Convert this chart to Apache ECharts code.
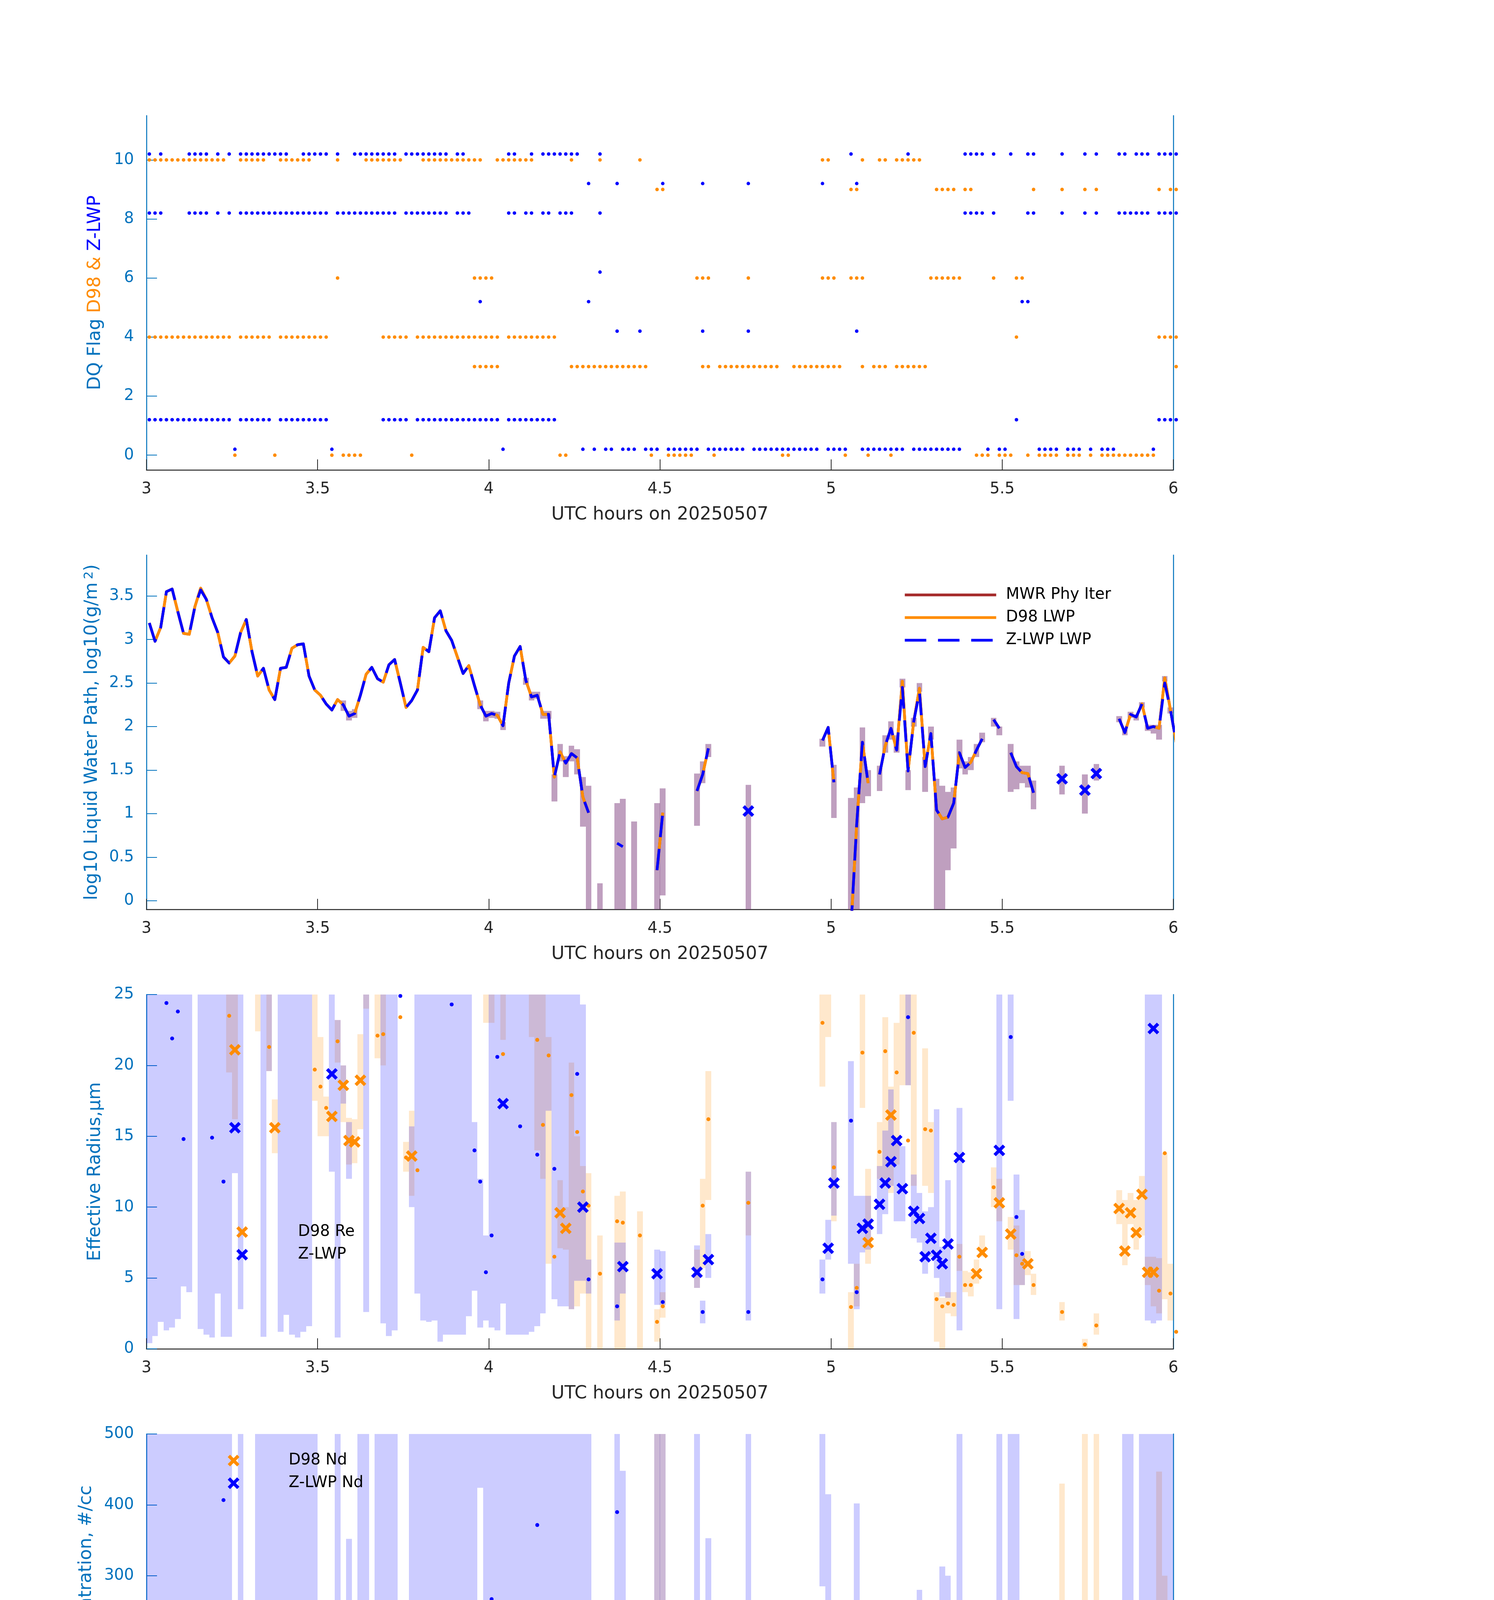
<!DOCTYPE html>
<html><head><meta charset="utf-8">
<script src="https://cdn.jsdelivr.net/npm/echarts@6/dist/echarts.min.js"></script>
<style>html,body{margin:0;padding:0;background:#fff}#c{width:3825px;height:6000px}</style>
</head><body><div id="c"></div>
<script>
const _ = null;
// ---------- Panel 1: DQ flags (minute indices, ranges [a,b] or single minutes) ----------
const d98Flag10 = [[0,13],[16,20],[23,28],33,[38,44],[48,58],[61,67],74,79,86,118,119,125,128,129,[131,135]];
const d98Flag9 = [89,90,123,124,[138,141],143,144,155,160,164,166,177,179,180];
const d98Flag6 = [33,[57,60],[96,98],105,[118,120],[123,125],[137,142],148,152,153];
const d98Flag4 = [[0,14],[16,21],[23,31],[41,45],[47,61],[63,71],152,[177,180]];
const d98Flag3 = [[57,61],[74,87],97,98,[100,110],[113,121],125,[127,129],[131,136],180];
const d98Flag0 = [15,22,32,[34,37],46,72,73,88,[91,95],99,111,112,122,126,130,[145,147],[149,151],154,[156,159],[161,163],165,[167,176]];
const zFlag10 = [0,2,[7,10],12,14,[16,24],[27,31],33,[36,43],[45,52],54,55,63,64,67,[69,75],79,123,133,[143,146],148,151,154,155,160,164,166,170,171,[173,175],[177,180]];
const zFlag9 = [77,82,90,97,105,118,124];
const zFlag8 = [[0,2],[7,10],12,14,[16,31],[33,43],[45,52],[54,56],63,64,66,67,69,70,[72,74],79,[143,146],148,154,155,160,164,166,[170,175],[177,180]];
const zFlag6 = [79];
const zFlag5 = [58,77,153,154];
const zFlag4 = [82,86,97,105,124];
const zFlag1 = [[0,14],[16,21],[23,31],[41,45],[47,61],[63,71],152,[177,180]];
const zFlag0 = [15,32,62,76,78,80,81,[83,85],[87,89],[91,96],[98,104],[106,117],[119,122],[125,132],[134,142],147,149,150,[156,159],[161,163],165,[167,169],176];

// ---------- Panel 2: log10 LWP per minute ----------
const d98Lwp = [3.19,2.98,3.14,3.55,3.58,3.32,3.07,3.06,3.38,3.59,
3.46,3.25,3.08,2.80,2.73,2.81,3.08,3.23,2.86,2.58,
2.67,2.42,2.31,2.67,2.68,2.90,2.94,2.95,2.58,2.42,
2.36,2.26,2.19,2.31,2.25,2.12,2.15,2.36,2.60,2.68,
2.55,2.51,2.71,2.77,2.50,2.22,2.30,2.42,2.91,2.86,
3.25,3.33,3.10,2.99,2.80,2.61,2.70,2.47,2.25,2.12,
2.15,2.13,2.01,2.50,2.81,2.92,2.53,2.34,2.36,2.14,
2.14,1.42,1.71,1.58,1.69,1.64,1.19,1.01,_,_,
_,_,_,_,_,_,_,_,_,0.35,
1.01,_,_,_,_,_,1.26,1.45,1.75,_,
_,_,_,_,_,_,_,_,_,_,
_,_,_,_,_,_,_,_,1.84,1.99,
1.36,_,_,-0.3,0.88,1.82,1.35,_,1.45,1.78,
1.98,1.73,2.52,1.49,2.06,2.44,1.54,1.92,1.04,0.94,
0.96,1.12,1.70,1.53,1.59,1.73,1.86,_,2.08,1.98,
_,1.70,1.54,1.47,1.46,1.24,_,_,_,_,
_,_,_,_,_,_,_,_,_,_,
2.09,1.93,2.14,2.11,2.26,1.98,2.00,1.98,2.56,2.19,
1.82];
const zLwp = [3.19,2.98,3.14,3.55,3.58,3.32,3.07,3.06,3.38,3.57,
3.46,3.25,3.08,2.80,2.73,2.81,3.08,3.23,2.86,2.58,
2.67,2.42,2.31,2.67,2.68,2.90,2.94,2.95,2.58,2.42,
2.36,2.26,2.19,2.31,2.25,2.12,2.15,2.36,2.60,2.68,
2.55,2.51,2.71,2.77,2.50,2.22,2.30,2.42,2.91,2.86,
3.25,3.33,3.10,2.99,2.80,2.61,2.70,2.47,2.25,2.12,
2.15,2.13,2.01,2.50,2.81,2.92,2.53,2.34,2.36,2.14,
2.14,1.42,1.71,1.58,1.69,1.64,1.19,1.01,_,_,
_,_,0.66,0.62,_,_,_,_,_,0.35,
1.01,_,_,_,_,_,1.26,1.45,1.75,_,
_,_,_,_,_,_,_,_,_,_,
_,_,_,_,_,_,_,_,1.84,1.99,
1.36,_,_,-0.3,0.88,1.82,1.35,_,1.45,1.78,
1.98,1.73,2.45,1.49,2.06,2.40,1.54,1.92,1.04,0.94,
0.96,1.12,1.70,1.53,1.59,1.73,1.86,_,2.08,1.98,
_,1.70,1.54,1.47,1.46,1.24,_,_,_,_,
_,_,_,_,_,_,_,_,_,_,
2.09,1.93,2.14,2.11,2.26,1.98,2.00,1.98,2.50,2.19,
1.82];
const mwrLwp = [3.19,2.98,3.14,3.55,3.58,3.32,3.07,3.06,3.38,3.59,
3.46,3.25,3.08,2.80,2.73,2.81,3.08,3.23,2.86,2.58,
2.67,2.42,2.31,2.67,2.68,2.90,2.94,2.95,2.58,2.42,
2.36,2.26,2.19,2.31,2.25,2.12,2.15,2.36,2.60,2.68,
2.55,2.51,2.71,2.77,2.50,2.22,2.30,2.42,2.91,2.86,
3.25,3.33,3.10,2.99,2.80,2.61,2.70,2.47,2.25,2.12,
2.15,2.13,2.01,2.50,2.81,2.92,2.53,2.34,2.36,2.14,
2.14,1.42,1.71,1.58,1.69,1.64,1.19,1.01,_,_,
_,_,_,_,_,_,_,_,_,0.35,
1.01,_,_,_,_,_,1.26,1.45,1.75,_,
_,_,_,_,_,_,_,_,_,_,
_,_,_,_,_,_,_,_,1.84,1.99,
1.36,_,_,-0.3,0.88,1.82,1.35,_,1.45,1.78,
1.98,1.73,2.52,1.49,2.06,2.44,1.54,1.92,1.04,0.94,
0.96,1.12,1.70,1.53,1.59,1.73,1.86,_,2.08,1.98,
_,1.70,1.54,1.47,1.46,1.24,_,_,_,_,
_,_,_,_,_,_,_,_,_,_,
2.09,1.93,2.14,2.11,2.26,1.98,2.00,1.98,2.56,2.19,
1.82];
const zLwpIso = [[105,1.03],[160,1.40],[164,1.27],[166,1.46]];
const lwpBand = [[34,2.18,2.30],[35,2.07,2.18],[36,2.10,2.20],[58,2.20,2.30],[59,2.06,2.18],[60,2.10,2.18],[61,2.09,2.17],[62,1.96,2.05],[66,2.48,2.56],[67,2.30,2.40],[68,2.32,2.40],[69,2.09,2.18],[70,2.09,2.18],[71,1.14,1.45],[72,1.60,1.80],[73,1.42,1.66],[74,1.60,1.78],[75,1.45,1.74],[76,0.85,1.42],[77,-1,1.32],[79,-1,0.2],[82,-1,1.12],[83,-1,1.17],[85,-1,0.91],[89,-1,1.12],[90,0.06,1.29],[96,0.86,1.46],[97,1.35,1.60],[98,1.65,1.80],[105,-1,1.33],[118,1.77,1.86],[120,0.95,1.56],[123,-1,1.18],[124,-1,1.30],[125,1.12,1.99],[126,1.20,1.50],[128,1.26,1.55],[129,1.70,1.90],[130,1.85,2.06],[131,1.70,1.90],[132,2.45,2.55],[133,1.27,1.50],[134,2.00,2.10],[135,2.40,2.50],[136,1.25,1.65],[137,1.85,2.00],[138,-1,1.40],[139,-1,1.32],[140,0.35,1.25],[141,0.60,1.30],[142,1.52,1.85],[143,1.45,1.60],[144,1.50,1.65],[145,1.65,1.80],[146,1.82,1.93],[148,2.00,2.10],[149,1.90,2.00],[151,1.25,1.80],[152,1.28,1.60],[153,1.35,1.55],[154,1.30,1.55],[155,1.05,1.38],[160,1.22,1.55],[164,1.00,1.45],[166,1.38,1.57],[170,2.05,2.12],[171,1.90,1.96],[172,2.10,2.17],[173,2.07,2.14],[174,2.22,2.28],[175,1.95,2.02],[176,1.92,2.02],[177,1.85,2.02],[178,2.52,2.58],[179,2.15,2.22],[180,1.75,1.85]];

// ---------- Panel 3: effective radius [minute, value] / [minute, lo, hi] ----------
const reD98X = [[15,21.1],[22,15.6],[32,16.4],[34,18.6],[35,14.7],[36,14.6],[37,18.95],[46,13.6],[72,9.6],[73,8.5],[126,7.5],[130,16.5],[145,5.3],[146,6.8],[149,10.3],[151,8.1],[154,6.0],[170,9.9],[171,6.9],[172,9.6],[173,8.2],[174,10.9],[175,5.4],[176,5.4]];
const reZX = [[15,15.6],[32,19.4],[62,17.3],[76,10.0],[83,5.8],[89,5.3],[96,5.4],[98,6.3],[119,7.1],[120,11.7],[125,8.5],[126,8.8],[128,10.2],[129,11.7],[130,13.2],[131,14.7],[132,11.3],[134,9.7],[135,9.2],[136,6.5],[137,7.8],[138,6.6],[139,6.0],[140,7.4],[142,13.5],[149,14.0],[176,22.6]];
const reD98Pts = [[14,23.5],[21,21.3],[29,19.7],[30,18.5],[31,17.0],[33,21.7],[40,22.1],[41,22.2],[44,23.4],[45,13.5],[47,12.6],[62,20.8],[68,21.8],[69,15.8],[70,20.7],[71,6.5],[74,17.9],[75,15.3],[76,11.1],[77,10.1],[79,5.3],[82,9.0],[83,8.9],[86,8.0],[89,1.9],[90,3.0],[97,10.1],[98,16.2],[105,10.3],[118,23.0],[120,12.8],[123,2.95],[124,4.3],[125,20.9],[128,13.9],[129,21.0],[131,19.5],[133,14.7],[134,22.3],[136,15.5],[137,15.4],[138,3.5],[139,3.0],[140,3.2],[141,3.1],[142,6.5],[143,4.5],[144,4.5],[148,11.4],[152,6.6],[153,6.0],[155,4.5],[160,2.6],[164,0.3],[166,1.65],[177,4.1],[178,13.8],[179,3.9],[180,1.2]];
const reZPts = [[3,24.4],[4,21.9],[5,23.8],[6,14.8],[11,14.9],[13,11.8],[44,24.9],[53,24.3],[57,14.0],[58,11.8],[59,5.4],[60,8.0],[61,20.6],[65,15.7],[68,13.7],[71,12.7],[75,19.4],[77,4.9],[82,3.0],[90,3.3],[97,2.6],[105,2.6],[118,4.9],[123,16.1],[124,4.0],[133,23.4],[151,22.0],[152,9.3],[153,6.7]];
const reZBand = [[0,0.4,30],[1,0.9,30],[2,1.9,30],[3,1.3,30],[4,1.5,30],[5,2.1,30],[6,4.4,30],[7,4.0,30],[9,1.4,30],[10,1.0,30],[11,0.8,30],[12,3.9,30],[13,0.85,30],[14,0.85,30],[15,12.4,30],[16,2.8,30],[20,0.85,30],[21,19.6,30],[23,1.2,30],[24,2.4,30],[25,1.0,30],[26,0.8,30],[27,1.2,30],[28,1.6,30],[32,12.5,30],[33,0.8,23.2],[34,17.3,20],[35,12,16],[38,2.6,30],[41,1.8,30],[42,0.9,30],[43,1.3,30],[46,10,15.7],[47,3.9,30],[48,2.0,30],[49,1.9,30],[50,2.0,30],[51,0.5,30],[52,1.0,30],[53,1.0,30],[54,1.0,30],[55,1.0,30],[56,2.3,30],[57,4.1,16],[58,1.5,12],[59,2.0,8],[60,1.5,30],[61,1.3,30],[62,3.2,30],[63,1.0,30],[64,1.0,30],[65,1.0,30],[66,1.0,30],[67,1.2,30],[68,1.6,30],[69,2.5,30],[70,16.8,30],[71,3.5,30],[72,3.0,30],[73,3.0,30],[74,2.8,30],[75,4.8,30],[76,4.8,24.3],[77,3.9,6.3],[82,2.0,7.5],[83,3.9,7.5],[89,3.1,7.0],[90,3.1,6.9],[96,4.3,7.3],[97,1.8,3.4],[98,5.0,8.1],[105,2.0,12.5],[118,3.9,6.3],[119,6.3,9.1],[120,9.4,16],[123,6.0,20.3],[124,2.8,10.8],[125,6.8,10.8],[126,7.0,10.8],[128,8.1,12.9],[129,9.5,15.4],[130,11.5,18.3],[131,9.0,14.5],[132,9.0,14.3],[133,18.6,30],[134,7.8,12.3],[135,7.5,11],[136,5.3,9.7],[137,6.5,10],[138,5.0,16.9],[139,3.7,7.2],[140,3.6,11.9],[142,1.3,17.0],[149,2.8,30],[151,17.5,30],[152,2.1,12.3],[153,4.5,9.8],[175,2.0,30],[176,1.8,30],[177,2.0,30]];
const reD98Band = [[14,19.5,30],[15,16.2,30],[19,22.4,30],[21,19.6,30],[22,13.8,17.6],[29,17.5,30],[30,15,22],[31,15,17.8],[33,20.2,23.2],[34,16,20],[35,13,16.3],[36,13.1,16.2],[37,15.5,22.2],[38,24,30],[40,20.5,30],[41,20,30],[45,12.5,14.6],[46,10.8,16.8],[59,23,30],[60,23,30],[62,21.8,30],[67,22,30],[68,14,30],[69,12,25],[70,6,22],[72,7.1,11.9],[73,7,10],[74,2.8,20.2],[75,3,15],[76,3.9,12.9],[77,0,12.4],[79,0,8],[82,0,10.8],[83,0,11.1],[86,0,9.7],[89,0.5,2.8],[90,2.2,4],[96,4.3,7.0],[97,5.7,12],[98,10.5,19.6],[105,8.0,12.5],[118,18.5,30],[119,22,30],[120,9,16],[123,0,4],[124,3,6],[125,17,25],[126,6,12.7],[128,12,16],[129,12,23.4],[130,11,18.5],[131,13,23],[132,18.6,30],[133,18.6,30],[134,11.5,30],[136,11.5,21.2],[137,11,16],[138,0.5,4],[139,0,3.6],[140,2.5,4],[141,2.3,4],[142,5.5,7.4],[143,4.0,5.5],[144,3.7,5.4],[145,4.6,6.3],[146,6.5,8.0],[148,10,12.8],[149,9,12],[151,7,9.3],[152,4.5,8.7],[153,4.5,6.6],[154,5.2,6.9],[155,3.8,5.3],[160,2,3.3],[164,0,0.7],[166,1,2.5],[170,8.8,11.2],[171,5.9,10.5],[172,8.8,11.0],[173,7,10.5],[174,8,12.2],[175,4.5,6.5],[176,3,6.5],[177,2.5,6.4],[178,3.5,13.8],[179,2,6],[180,0.5,3]];

// ---------- Panel 4: droplet concentration ----------
const ndD98X = [[15,9.7],[22,10.4],[32,9],[34,5.8],[35,7.7],[36,7.7],[37,8.5],[46,12.4],[72,48.4],[73,29],[126,29],[145,32.9],[146,19.3],[149,8.5],[151,10.8],[154,13.5],[170,11.2],[171,21.3],[172,13.5],[173,18.2],[174,11.2],[175,49.5],[176,51.5]];
const ndZX = [[15,130.8],[32,33.7],[62,11.6],[76,13.5],[83,34],[89,24.4],[96,222.5],[98,174.2],[119,207],[120,7.7],[125,72.4],[126,20],[128,13.5],[129,16.6],[130,11.6],[131,7],[132,80],[134,41.8],[135,141],[136,99.5],[137,83.2],[138,26.3],[139,29],[140,14.7],[142,15.9],[149,65.8],[176,36]];
const ndD98Pts = [[0,0.4],[1,0.4],[3,0.4],[4,0.4],[5,0.4],[6,0.8],[8,1],[9,0.8],[10,0.8],[11,0.8],[13,3.9],[14,5.8],[16,3.9],[18,2.7],[19,3.5],[20,2.7],[21,7.4],[23,2.7],[24,1],[25,0.4],[26,0.4],[27,0.4],[28,2.7],[29,7.4],[30,7.4],[31,8.1],[33,4],[38,3],[39,3.5],[40,4],[41,4],[44,3.5],[45,9.7],[47,13.5],[48,2],[49,2.7],[52,0.4],[53,0.4],[54,0.4],[55,0.4],[56,2],[57,1],[58,2],[59,6.6],[60,5.8],[61,5],[62,5.8],[64,0.4],[65,0.4],[66,2],[67,4],[68,5],[69,14.7],[70,6.6],[71,29],[74,3.5],[75,7.4],[77,11.6],[82,14.3],[83,11.6],[86,0.4],[90,1],[96,87.8],[97,29],[98,5.8],[105,7.7],[118,2.7],[119,1.9],[123,16.6],[124,26.3],[125,2.7],[128,4.6],[129,1.9],[132,0.8],[133,3],[134,3],[135,0.8],[136,7],[137,7],[138,89.8],[139,92.9],[140,71.6],[141,45.7],[142,21.3],[143,32],[144,29],[148,9.7],[152,13.5],[153,14.7],[155,19.3],[160,168.3],[164,0],[177,110.3],[178,10.4],[179,178.8]];
const ndZPts = [[0,0.8],[1,12.4],[2,1],[3,152],[4,38],[5,17.4],[6,158.7],[7,1],[8,4],[9,1],[10,1],[11,1],[12,2],[13,406.7],[14,2],[16,1],[17,1.5],[18,1],[19,2.7],[20,1],[21,0.4],[23,1],[24,0.4],[25,93],[26,9],[27,3.5],[28,0.4],[29,0.4],[30,2],[31,0.4],[33,2.7],[34,17.4],[35,9],[36,0.4],[37,1],[38,0.4],[39,4],[40,1.5],[41,0.4],[42,2],[43,1.5],[44,58],[45,0.4],[46,4],[47,0.4],[48,0.4],[49,0.4],[50,0.4],[51,0.4],[52,1],[53,12.8],[54,2],[55,1],[56,5.8],[57,82],[58,144],[60,267],[61,11],[63,1],[64,3],[65,110],[66,5.8],[67,2.7],[68,371.5],[69,2.7],[70,4.6],[71,4],[72,1],[73,0.4],[74,0.4],[75,4.3],[77,212.8],[79,0.4],[82,389.7],[123,0.4],[124,73.5],[133,1],[143,0.4],[144,0.4],[145,0.4],[146,0.4],[148,3],[151,2],[152,33],[153,60.8],[154,0.4],[155,0.4],[160,0.4],[164,0.4],[166,0.4],[170,0.4],[171,0.4],[172,20.9],[173,0.4],[174,0.4],[175,0.4],[177,0.4],[178,2],[179,0.4],[180,0.4]];
const ndZBand = [[0,0,600],[1,0,600],[2,0,600],[3,10,600],[4,18,600],[5,10,600],[6,0,600],[7,0,600],[8,0,600],[9,0,600],[10,0,600],[11,0,600],[12,0,600],[13,0,600],[14,0,600],[15,0,262],[16,0,600],[19,0,600],[20,0,600],[21,0,600],[22,0,600],[23,0,600],[24,0,600],[25,0,600],[26,0,600],[27,0,600],[28,0,600],[29,0,600],[32,0,157],[33,0,600],[34,0,43],[35,0,352],[37,0,600],[38,0,600],[40,0,600],[41,0,600],[42,0,600],[43,0,600],[44,0,120],[46,0,600],[47,0,600],[48,0,600],[49,0,600],[50,0,600],[51,0,600],[52,0,600],[53,0,600],[54,0,600],[55,0,600],[56,0,600],[57,100,600],[58,424,600],[59,200,600],[60,0,600],[61,0,600],[62,0,600],[63,20,600],[64,54,600],[65,10,600],[66,0,600],[67,0,600],[68,0,600],[69,0,600],[70,0,600],[71,0,600],[72,0,600],[73,0,600],[74,0,600],[75,0,600],[76,85,600],[77,85,600],[82,85,600],[83,17,448],[89,10,600],[90,10,600],[96,35,600],[98,86,353],[105,0,600],[118,285,600],[119,100,415],[120,5,90],[124,10,402],[125,29,145],[126,20,50],[128,10,33],[129,8,28],[130,5,30],[131,5,35],[132,40,160],[134,20,210],[135,60,280],[136,30,250],[137,50,130],[138,20,75],[139,4,313],[140,4,300],[142,0,600],[149,0,600],[151,0,600],[152,0,600],[153,10,80],[171,0,600],[172,0,600],[174,0,600],[175,0,600],[176,0,600],[177,0,600],[178,0,600],[179,0,600]];
const ndD98Band = [[14,5,20],[15,5,20],[35,3,12],[36,3,12],[46,8,25],[47,8,25],[70,0,27],[71,10,45],[72,30,65],[73,15,40],[76,10,35],[77,10,35],[82,5,24],[83,5,24],[86,0,20],[89,263,600],[90,263,600],[96,66,112],[97,20,100],[98,0,25],[105,0,12],[123,0,112],[124,0,147],[126,8,91],[127,5,15],[128,3,12],[129,2,10],[130,2,12],[136,3,12],[137,5,20],[138,15,170],[139,10,140],[140,10,120],[141,10,60],[142,10,40],[143,25,55],[144,25,55],[145,20,55],[146,15,35],[149,3,15],[151,5,20],[152,5,25],[153,10,30],[154,10,30],[155,10,30],[160,81,430],[164,0,600],[166,213,600],[170,5,30],[171,10,40],[172,8,40],[173,8,35],[174,5,20],[175,10,150],[176,30,250],[177,50,447],[178,40,300],[179,10,120],[180,0,600]];

// ---------- Panel 5: optical depth ----------
const odD98X = [[15,45.3],[22,19.9],[32,14.3],[34,14.3],[35,13.9],[36,14.7],[37,18.3],[46,22.6],[72,8.4],[73,6.7],[126,4.3],[130,8.6],[145,14.8],[146,16.2],[149,13.6],[151,9.5],[154,7.4],[170,19.6],[171,19.2],[172,21.3],[173,23.7],[174,25.1],[175,25.9],[176,27.7]];
const odZX = [[15,62.3],[32,12.5],[62,9.5],[76,2.2],[83,1.2],[89,0.9],[96,5.3],[98,13],[119,20.5],[120,2.9],[125,12.2],[126,3.9],[128,4.1],[129,8.1],[130,10.8],[131,5.8],[132,42.8],[134,17.2],[135,45.9],[136,8.4],[137,15.9],[138,2.6],[139,2.2],[140,2.2],[142,6.2],[149,10.3],[176,7.0]];
const odD98Pts = [[0,21.5],[1,25.4],[2,36.0],[3,36.3],[4,29.2],[5,26.9],[6,28.8],[7,36.0],[8,46.4],[9,40.4],[10,37.4],[11,33.4],[12,31.1],[13,30.2],[14,34.3],[16,53.0],[17,41.0],[18,27.5],[19,22.8],[20,19.9],[21,18.2],[23,22.7],[24,18.6],[25,14.9],[26,12.8],[27,14.5],[28,18.6],[29,20.0],[30,18.3],[31,15.8],[33,14.2],[38,23.0],[39,23.7],[40,24.1],[41,21.7],[42,21.3],[43,21.0],[44,20.0],[45,18.6],[47,31.2],[48,35.8],[49,34.4],[50,38.1],[51,35.1],[52,23.6],[53,16.4],[54,11.3],[55,10.4],[56,9.4],[57,7.2],[58,7.4],[59,7.7],[60,8.0],[61,8.0],[62,7.6],[63,10.1],[64,12.0],[65,11.6],[66,11.8],[67,13.2],[68,16.2],[69,13.1],[70,10.2],[71,6.0],[74,4.3],[75,4.3],[77,1.5],[79,0.1],[82,1.0],[86,0.1],[89,1.9],[90,5.4],[97,4.4],[98,5.1],[105,1.8],[118,4.7],[119,5.3],[123,0.6],[124,2.8],[125,5.0],[128,3.1],[129,4.5],[131,4.3],[132,6.4],[133,3.5],[134,7.6],[135,6.3],[136,3.5],[137,8.1],[138,4.9],[139,4.7],[140,4.6],[141,6.4],[142,12.3],[143,11.5],[144,13.0],[148,15.9],[152,8.0],[153,7.2],[155,6.0],[160,14.8],[164,91.7],[166,26.9],[177,34],[178,39.3],[179,53],[180,95.4]];
const odZPts = [[0,29.9],[1,53.6],[2,36],[7,26.9],[8,53.1],[9,60.6],[10,59.2],[12,41],[13,82.4],[14,21.3],[16,26.8],[17,36.2],[18,14.1],[19,14.8],[20,8.5],[21,7.2],[22,3.9],[23,15.7],[24,9.0],[25,36.6],[26,40.1],[27,34],[28,5.7],[29,5.6],[30,6.3],[31,5.7],[33,10],[34,10.8],[35,7.3],[36,4.3],[37,6.7],[38,12.1],[39,23],[40,10.7],[41,8.6],[42,20.8],[43,19.5],[44,19.9],[45,3.2],[46,8.9],[47,4.7],[48,12.1],[49,11.1],[50,30.4],[51,32.0],[52,33.3],[53,65.9],[54,23.7],[55,11.1],[56,26.8],[57,33.2],[58,23.7],[59,38.4],[60,26.7],[61,10.3],[63,11.8],[64,24.7],[65,82],[66,17.5],[67,10.6],[68,26.7],[69,7.0],[70,7.0],[71,3.2],[72,2.3],[73,1.3],[74,2.0],[75,3.6],[77,3.6],[79,0.2],[82,2.4],[90,5.1],[97,16.5],[105,6.3],[118,21.9],[123,0.2],[124,2.8],[133,2.2],[143,1.2],[144,0.9],[145,0.9],[146,1.2],[148,6.0],[151,3.6],[152,5.8],[153,7.0],[154,0.9],[155,0.5],[160,0.4],[164,0.2],[166,0.4],[170,2.0],[171,1.0],[172,7.0],[173,1.4],[174,2.3],[175,1.9],[177,1.2],[178,7.7],[179,1.2],[180,0.6]];
const odZBand = [[0,27,110],[1,27,110],[2,26,110],[6,52,110],[7,21,110],[8,51.7,86],[9,47,110],[10,47.5,110],[11,60,110],[12,25,110],[13,18,110],[14,17,110],[15,23,78.3],[16,21,110],[17,10,20],[18,7.5,18],[19,7,110],[20,5.5,110],[21,4,110],[22,3.5,110],[23,12.6,110],[24,8.4,110],[25,21,110],[26,32,110],[27,26.5,110],[28,4.1,110],[29,3.3,7.2],[30,4.6,7.5],[31,4.5,7.0],[32,5.5,19.2],[33,8,110],[34,5,16],[35,2.5,18.4],[36,3,12],[37,4,110],[38,10,29],[39,10,110],[40,15,110],[41,16,110],[42,14.5,110],[43,5,110],[44,2.5,110],[45,3,30],[46,3,40],[47,4.5,110],[48,10,110],[49,12.5,110],[50,24,110],[51,25,110],[52,28,110],[53,50,110],[54,10,110],[55,22,110],[56,28,110],[57,32,110],[58,18,29],[59,24,110],[60,12,110],[61,5,49],[62,5,110],[63,20,110],[64,64,110],[65,14,110],[66,7.5,110],[67,6,110],[68,5,110],[69,1,17.6],[70,1,15.3],[71,1,37],[72,1,17],[73,2,21],[74,2,26.5],[75,2,6],[76,0,9.5],[77,0,9.5],[82,0,9.5],[83,0,6],[89,0,7.6],[90,0,11.4],[96,1.6,9.7],[97,9.9,24.2],[98,10.3,16.3],[105,0,15.3],[118,16,27.5],[119,16,25.7],[120,2,12],[123,0,3],[124,1.5,8],[125,8,16.5],[126,2,5.5],[128,3,6.8],[129,5,11],[130,8,14.2],[131,4,7],[132,34.3,53.9],[133,1,34],[134,13,22.3],[135,35,56.7],[136,5,11.8],[137,12.2,19.7],[138,0.5,5.6],[139,0.5,5.6],[140,0.5,5.6],[142,2.9,61.1],[148,4.5,7.5],[149,2.4,50],[151,2.5,5],[152,2,25.8],[153,4,15],[154,0,3],[171,0.5,110],[172,0.5,110],[173,1,21],[174,1,22],[175,1,70],[176,1,83.6],[177,2,22],[178,0.5,110],[179,1,110]];
const odD98Band = [[0,19.5,24],[1,22,30],[2,29,42],[3,29,42],[4,26,33],[5,25,29],[6,25.5,32],[7,31,42],[8,38,52],[9,36,48],[10,33,42],[11,29,37],[12,28.5,33],[13,28,33],[14,29,42],[15,35,59],[16,43,59],[17,30,45],[18,23,32],[19,20,26],[20,18,23],[21,17,22],[22,17,22.3],[23,20,25.7],[24,17,23],[25,13,17],[26,11.4,15],[27,12,17],[28,16,21.5],[29,18,22],[30,16,21],[31,14,17.5],[32,12.5,15.5],[33,13,16],[34,12.5,16],[35,12,15.5],[36,13,17],[37,16,21],[38,20,25.4],[39,21,26.5],[40,22,26.5],[41,20,24],[42,19.5,23],[43,19,22.5],[44,18,21],[45,17,20],[46,18.4,28.8],[47,28,39.7],[48,32,38],[49,31,37],[50,34,42.4],[51,25,40],[52,20,28],[53,13,20],[54,9,14],[55,8,12],[56,8,11],[57,6,8.5],[58,6,8.5],[59,6.5,8.7],[60,7,9],[61,7,9],[62,7,9],[63,9,11.5],[64,11,13],[65,11,12.5],[66,11,12.7],[67,12,15],[68,14.5,17.2],[69,12,15],[70,9,11.5],[71,5,7],[72,6.5,9],[73,5.5,8],[74,3.5,5],[75,3.5,5],[76,1,3],[77,0.5,2.5],[79,0,0.8],[82,0.5,1.7],[83,0.5,1.5],[86,0,1.5],[89,0,6.4],[90,3.5,7.5],[97,2.6,7.6],[98,3,7.6],[105,0.5,3],[118,4,5.5],[119,4.5,6],[123,0,2.5],[124,1,5],[125,3.5,6.5],[126,2.5,6.5],[128,2,4.5],[129,3,6],[130,6,12],[131,3,6.5],[132,4.5,8],[133,2,5],[134,5.5,9.9],[135,4,8],[136,2,6],[137,5.5,11],[138,2.5,7.2],[139,2.5,7],[140,2.5,6.5],[141,4.5,9.1],[142,10,14],[143,9.5,13],[144,11,16],[145,13,17.5],[146,14.5,18.3],[148,14.5,17.5],[149,11,16.5],[151,8,11],[152,6.5,9.5],[153,6.5,8],[154,5,8.5],[155,4.5,7.5],[160,11.7,19.9],[164,0,92.3],[166,18.2,49.1],[170,17.6,21.9],[171,17,22],[172,19,23.5],[173,21,28.8],[174,23,29],[175,24,29.5],[176,25,31],[177,27,45],[178,30,54],[179,44,70],[180,60,110]];

// ---------- axis ticks ----------
const xTicks = {min: 3, max: 6, interval: 0.5};
const flagTicks = [0,2,4,6,8,10];
const lwpTicks = [0,0.5,1,1.5,2,2.5,3,3.5];

// ---------- rendering ----------
const FONT = 'DejaVu Sans';
const AXB = '#0072BD', DARK = '#262626', ORANGE = '#FF8C00', BLUE = '#0000FF', MWR = '#A52A2A';
const XSYM = 'path://M2,0L5,3L8,0L10,2L7,5L10,8L8,10L5,7L2,10L0,8L3,5L0,2Z';
const tOf = m => 3 + (m + 0.5) / 60;
const HALF = 1 / 120;
function expand(list) { const out = []; list.forEach(r => { if (Array.isArray(r)) { for (let m = r[0]; m <= r[1]; m++) out.push(m); } else out.push(r); }); return out; }

const tops = [296, 1421, 2546, 3671, 4796];
const grids = tops.map(t => ({left: 375, width: 2629, top: t, height: 907}));

const xAxes = tops.map((t, i) => ({
  type: 'value', gridIndex: i, min: xTicks.min, max: xTicks.max, interval: xTicks.interval,
  name: 'UTC hours on 20250507', nameLocation: 'middle', nameGap: 92,
  nameTextStyle: {fontSize: 46, color: DARK, fontFamily: FONT},
  axisLine: {show: true, onZero: false, lineStyle: {color: DARK, width: 2.5}},
  axisTick: {show: true, inside: true, length: 27, lineStyle: {color: DARK, width: 2}},
  axisLabel: {fontSize: 40, color: DARK, fontFamily: FONT, margin: 30, formatter: v => String(v)},
  splitLine: {show: false}
}));

function leftY(i, min, max, name, gap, extra) {
  const o = {
    type: 'value', gridIndex: i, position: 'left', min, max,
    name, nameLocation: 'middle', nameGap: gap, nameRotate: 90,
    nameTextStyle: {fontSize: 46, color: AXB, fontFamily: FONT},
    axisLine: {show: true, onZero: false, lineStyle: {color: AXB, width: 2.5}},
    axisTick: {show: true, inside: true, length: 27, lineStyle: {color: AXB, width: 2}},
    axisLabel: {fontSize: 40, color: AXB, fontFamily: FONT, margin: 32},
    splitLine: {show: false}
  };
  if (extra && extra.interval) o.interval = extra.interval;
  if (extra && extra.custom) { o.axisTick.customValues = extra.custom; o.axisLabel.customValues = extra.custom; }
  if (extra && extra.rich) o.nameTextStyle.rich = extra.rich;
  return o;
}
const ranges = [[-0.5, 11.5], [-0.1, 3.97], [0, 25], [0, 500], [0, 100]];
const yAxes = [
  leftY(0, -0.5, 11.5, '{a|DQ Flag} {b|D98 &} {c|Z-LWP}', 108, {custom: flagTicks, rich: {
    a: {color: AXB, fontSize: 46, fontFamily: FONT}, b: {color: ORANGE, fontSize: 46, fontFamily: FONT}, c: {color: BLUE, fontSize: 46, fontFamily: FONT}}}),
  leftY(1, -0.1, 3.97, '{n|log10 Liquid Water Path, log10(g/m}{s|2}{n|)}', 116, {custom: lwpTicks, rich: {
    n: {color: AXB, fontSize: 46, fontFamily: FONT}, s: {color: AXB, fontSize: 32, fontFamily: FONT, verticalAlign: 'top', padding: [0, 0, 0, 8]}}}),
  leftY(2, 0, 25, 'Effective Radius,μm', 108, {interval: 5}),
  leftY(3, 0, 500, 'Droplet Concentration, #/cc', 131, {interval: 100}),
  leftY(4, 0, 100, 'Optical Depth', 131, {interval: 20})
];
ranges.forEach((r, i) => yAxes.push({
  type: 'value', gridIndex: i, position: 'right', min: r[0], max: r[1],
  axisLine: {show: true, onZero: false, lineStyle: {color: AXB, width: 2.5}},
  axisTick: {show: false}, axisLabel: {show: false}, splitLine: {show: false}
}));

function band(gi, data, color) {
  return {
    type: 'custom', xAxisIndex: gi, yAxisIndex: gi, clip: true, silent: true,
    data: data.map(d => [tOf(d[0]), d[1], d[2]]), encode: {x: 0, y: [1, 2]},
    renderItem: (p, api) => {
      const t = api.value(0);
      const a = api.coord([t - HALF, api.value(2)]);
      const b = api.coord([t + HALF, api.value(1)]);
      const x0 = Math.round(a[0]), x1 = Math.round(b[0]);
      return {type: 'rect', shape: {x: x0, y: a[1], width: x1 - x0, height: b[1] - a[1]}, style: {fill: color}};
    }
  };
}
function pts(gi, name, data, color, sym, size) {
  return {type: 'scatter', name, xAxisIndex: gi, yAxisIndex: gi, data: data.map(d => [tOf(d[0]), d[1]]),
    symbol: sym, symbolSize: size, itemStyle: {color, opacity: 1}, clip: false, silent: true};
}
function flagPts(name, lists, color, off) {
  const data = [];
  lists.forEach(([lvl, list]) => expand(list).forEach(m => data.push([tOf(m), lvl + off])));
  return {type: 'scatter', name, xAxisIndex: 0, yAxisIndex: 0, data, symbol: 'circle', symbolSize: 9,
    itemStyle: {color, opacity: 1}, clip: false, silent: true};
}
function lwpLine(name, arr, color, width, dash) {
  return {type: 'line', name, xAxisIndex: 1, yAxisIndex: 1,
    data: arr.map((v, i) => [tOf(i), v === null ? '-' : v]),
    symbol: 'none', showSymbol: false, connectNulls: false, clip: true, silent: true,
    lineStyle: {color, width, type: dash || 'solid', join: 'round', cap: 'butt'}, itemStyle: {color}};
}

const OB = 'rgba(255,140,0,0.2)', BB = 'rgba(0,0,255,0.2)', PB = 'rgba(128,64,128,0.5)';
const XS = 30, DS = 10;
const series = [
  flagPts('D98 flag', [[10, d98Flag10], [9, d98Flag9], [6, d98Flag6], [4, d98Flag4], [3, d98Flag3], [0, d98Flag0]], ORANGE, 0),
  flagPts('Z-LWP flag', [[10, zFlag10], [9, zFlag9], [8, zFlag8], [6, zFlag6], [5, zFlag5], [4, zFlag4], [1, zFlag1], [0, zFlag0]], BLUE, 0.2),

  lwpLine('MWR Phy Iter', mwrLwp, MWR, 7),
  lwpLine('D98 LWP', d98Lwp, ORANGE, 7),
  band(1, lwpBand, PB),
  lwpLine('Z-LWP LWP', zLwp, BLUE, 7, [55, 30]),
  pts(1, 'Z-LWP LWP iso', zLwpIso, BLUE, XSYM, XS),

  band(2, reD98Band, OB),
  pts(2, 'D98 Re pts', reD98Pts, ORANGE, 'circle', DS),
  pts(2, 'D98 Re', reD98X, ORANGE, XSYM, XS),
  band(2, reZBand, BB),
  pts(2, 'Z-LWP pts', reZPts, BLUE, 'circle', DS),
  pts(2, 'Z-LWP', reZX, BLUE, XSYM, XS),

  band(3, ndD98Band, OB),
  pts(3, 'D98 Nd pts', ndD98Pts, ORANGE, 'circle', DS),
  pts(3, 'D98 Nd', ndD98X, ORANGE, XSYM, XS),
  band(3, ndZBand, BB),
  pts(3, 'Z-LWP Nd pts', ndZPts, BLUE, 'circle', DS),
  pts(3, 'Z-LWP Nd', ndZX, BLUE, XSYM, XS),

  band(4, odD98Band, OB),
  pts(4, 'D98 OD pts', odD98Pts, ORANGE, 'circle', DS),
  pts(4, 'D98 OD', odD98X, ORANGE, XSYM, XS),
  band(4, odZBand, BB),
  pts(4, 'Z-LWP OD pts', odZPts, BLUE, 'circle', DS),
  pts(4, 'Z-LWP Nd ', odZX, BLUE, XSYM, XS)
];

function legend(left, top, names, ih, pad, isLine) {
  const o = {left, top, orient: 'vertical', itemWidth: 234, itemHeight: ih, itemGap: 14, selectedMode: false,
    data: names, textStyle: {fontSize: 40, color: '#000', fontFamily: FONT, lineHeight: 44, padding: [0, 0, 0, pad]}};
  if (isLine) { o.lineStyle = {width: 7}; o.itemStyle = {opacity: 0}; }
  return o;
}

const chart = echarts.init(document.getElementById('c'), null, {renderer: 'canvas'});
chart.setOption({
  animation: false,
  backgroundColor: '#fff',
  grid: grids,
  xAxis: xAxes,
  yAxis: yAxes,
  legend: [
    legend(2308, 1496, ['MWR Phy Iter', 'D98 LWP', 'Z-LWP LWP'], 14, 20, true),
    legend(600, 3127, ['D98 Re', 'Z-LWP'], 30, 21),
    legend(578, 3712, ['D98 Nd', 'Z-LWP Nd'], 30, 19),
    legend(1892, 4837, ['D98 OD', 'Z-LWP Nd '], 30, 19)
  ],
  series
});
</script></body></html>
